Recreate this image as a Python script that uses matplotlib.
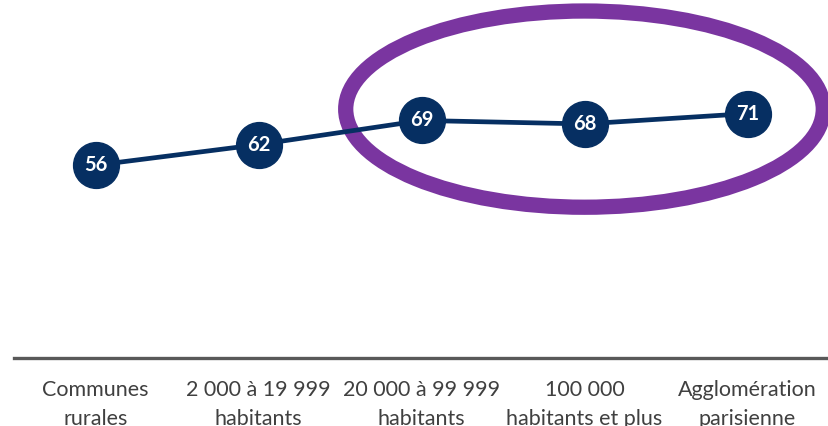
import matplotlib
matplotlib.use("Agg")
import matplotlib.pyplot as plt
from matplotlib.patches import Ellipse

# data
categories = ["Communes\nrurales", "2 000 à 19 999\nhabitants", "20 000 à 99 999\nhabitants",
              "100 000\nhabitants et plus", "Agglomération\nparisienne"]
values = [56, 62, 69, 68, 71]

navy = "#062F62"
purple = "#7A35A0"

plt.rcParams['font.family'] = ['Lato', 'DejaVu Sans']

fig = plt.figure(figsize=(8.29, 4.26), dpi=100)
ax = fig.add_axes([14 / 829, 68 / 426, 815 / 829, 358 / 426])

x = list(range(len(values)))
ax.plot(x, values, color=navy, lw=3.4, marker="o", markersize=33,
        markerfacecolor=navy, markeredgecolor=navy, zorder=3)
for xi, v in zip(x, values):
    ax.text(xi, v, str(v), ha="center", va="center", color="white",
            fontsize=14.5, fontweight="bold", zorder=4)

# highlight ellipse around the three largest agglomerations
ell = Ellipse((3.0, 72.3), width=2.93, height=57, fill=False,
              edgecolor=purple, lw=11, clip_on=False, zorder=2)
ax.add_patch(ell)

ax.set_xlim(-0.5, 4.5)
ax.set_ylim(0, 104)
ax.set_xticks(x)
ax.set_xticklabels(categories, fontsize=15.5, color="#404040", linespacing=1.55)
ax.tick_params(axis="x", length=0, pad=16)
ax.set_yticks([])
for side in ["top", "right", "left"]:
    ax.spines[side].set_visible(False)
ax.spines["bottom"].set_color("#595959")
ax.spines["bottom"].set_linewidth(2.4)

fig.savefig("out.png", dpi=100)
